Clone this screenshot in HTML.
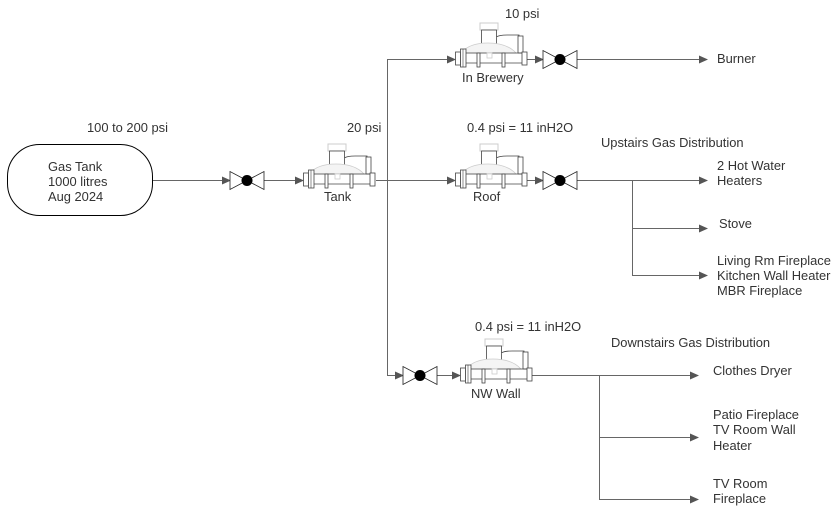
<!DOCTYPE html>
<html><head><meta charset="utf-8"><style>
html,body{margin:0;padding:0;background:#fff;}
svg{display:block;}
text{font-family:"Liberation Sans",Arial,sans-serif;font-size:12.9px;fill:#333;}
</style></head><body>
<svg width="840" height="517" viewBox="0 0 840 517" xmlns="http://www.w3.org/2000/svg">
<defs>
<g id="reg">
  <rect x="25" y="-36" width="18" height="7" fill="#fff" stroke="#ccc" stroke-width="1"/>
  <rect x="26.5" y="-29" width="15" height="17" fill="#fff" stroke="#444" stroke-width="0.8"/>
  <path d="M41.5,-22 Q44,-24 52,-24 L64,-24 L64,-6" fill="#fff" stroke="#444" stroke-width="0.8"/>
  <rect x="63" y="-23" width="5" height="17" fill="#fff" stroke="#444" stroke-width="0.8"/>
  <path d="M6,-6 Q14,-16 33,-16 Q52,-16 61,-6 Z" fill="#f4f4f4" stroke="#ccc" stroke-width="0.8"/>
  <line x1="11" y1="-6" x2="67" y2="-6" stroke="#444" stroke-width="0.8"/>
  <line x1="11" y1="4" x2="67" y2="4" stroke="#444" stroke-width="0.8"/>
  <rect x="22" y="-6" width="3" height="14" fill="#fff" stroke="#444" stroke-width="0.8"/>
  <rect x="47" y="-6" width="3" height="14" fill="#fff" stroke="#444" stroke-width="0.8"/>
  <rect x="32" y="-6" width="5" height="5" fill="#fff" stroke="#ccc" stroke-width="0.8"/>
  <rect x="0.5" y="-7" width="5" height="13" fill="#fff" stroke="#444" stroke-width="0.8"/>
  <rect x="5.5" y="-10" width="5.5" height="18" fill="#fff" stroke="#444" stroke-width="0.8"/>
  <line x1="8" y1="-10" x2="8" y2="8" stroke="#444" stroke-width="0.6"/>
  <rect x="67" y="-7" width="5" height="13" fill="#fff" stroke="#444" stroke-width="0.8"/>
</g>
<g id="valve">
  <path d="M0,-9 L0,9 L17,0 Z" fill="#fff" stroke="#222" stroke-width="0.8"/>
  <path d="M34,-9 L34,9 L17,0 Z" fill="#fff" stroke="#222" stroke-width="0.8"/>
  <circle cx="17" cy="0" r="5.5" fill="#000"/>
</g>
<marker id="ar" markerWidth="10" markerHeight="10" refX="8" refY="4" orient="auto" markerUnits="userSpaceOnUse">
  <path d="M0,0 L9,4 L0,8 Z" fill="#555"/>
</marker>
</defs>

<g stroke="#666" stroke-width="1" fill="none">
  <line x1="152" y1="180.5" x2="230" y2="180.5" marker-end="url(#ar)"/>
  <line x1="263" y1="180.5" x2="303" y2="180.5" marker-end="url(#ar)"/>
  <line x1="376" y1="180.5" x2="455" y2="180.5" marker-end="url(#ar)"/>
  <path d="M387.5,180 L387.5,59.5 L455,59.5" marker-end="url(#ar)"/>
  <path d="M387.5,180 L387.5,375.5 L403,375.5" marker-end="url(#ar)"/>
  <line x1="527" y1="59.5" x2="543" y2="59.5" marker-end="url(#ar)"/>
  <line x1="577" y1="59.5" x2="707" y2="59.5" marker-end="url(#ar)"/>
  <line x1="527" y1="180.5" x2="543" y2="180.5" marker-end="url(#ar)"/>
  <line x1="577" y1="180.5" x2="707" y2="180.5" marker-end="url(#ar)"/>
  <path d="M632.5,180 L632.5,228.5 L707,228.5" marker-end="url(#ar)"/>
  <path d="M632.5,228 L632.5,275.5 L707,275.5" marker-end="url(#ar)"/>
  <line x1="436" y1="375.5" x2="460" y2="375.5" marker-end="url(#ar)"/>
  <line x1="532" y1="375.5" x2="698" y2="375.5" marker-end="url(#ar)"/>
  <path d="M599.5,375 L599.5,437.5 L698,437.5" marker-end="url(#ar)"/>
  <path d="M599.5,437 L599.5,499.5 L698,499.5" marker-end="url(#ar)"/>
</g>

<rect x="7.5" y="144.5" width="145" height="71" rx="32" ry="32" fill="#fff" stroke="#000" stroke-width="1"/>
<text x="48" y="171">Gas Tank</text>
<text x="48" y="186">1000 litres</text>
<text x="48" y="201">Aug 2024</text>

<use href="#valve" x="230" y="180.5"/>
<use href="#valve" x="543" y="59.5"/>
<use href="#valve" x="543" y="180.5"/>
<use href="#valve" x="403" y="375.5"/>

<use href="#reg" x="303" y="180"/>
<use href="#reg" x="455" y="59"/>
<use href="#reg" x="455" y="180"/>
<use href="#reg" x="460" y="375"/>

<text x="87" y="132">100 to 200 psi</text>
<text x="347" y="132">20 psi</text>
<text x="324" y="201">Tank</text>
<text x="505" y="18">10 psi</text>
<text x="462" y="82">In Brewery</text>
<text x="717" y="63">Burner</text>
<text x="467" y="132">0.4 psi = 11 inH2O</text>
<text x="473" y="201">Roof</text>
<text x="601" y="147">Upstairs Gas Distribution</text>
<text x="717" y="170">2 Hot Water</text>
<text x="717" y="185">Heaters</text>
<text x="719" y="228">Stove</text>
<text x="717" y="265">Living Rm Fireplace</text>
<text x="717" y="280">Kitchen Wall Heater</text>
<text x="717" y="295">MBR Fireplace</text>
<text x="475" y="331">0.4 psi = 11 inH2O</text>
<text x="611" y="347">Downstairs Gas Distribution</text>
<text x="471" y="398">NW Wall</text>
<text x="713" y="375">Clothes Dryer</text>
<text x="713" y="419">Patio Fireplace</text>
<text x="713" y="434">TV Room Wall</text>
<text x="713" y="450">Heater</text>
<text x="713" y="488">TV Room</text>
<text x="713" y="503">Fireplace</text>
</svg>
</body></html>
